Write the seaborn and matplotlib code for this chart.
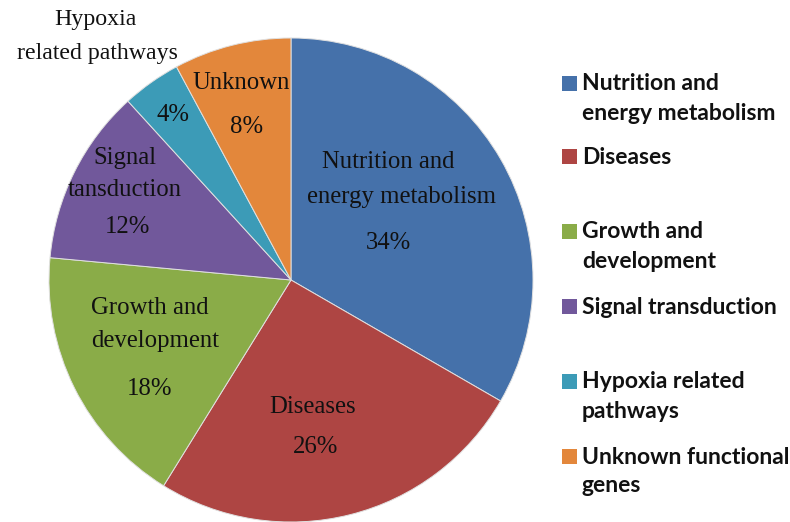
import matplotlib
matplotlib.use("Agg")
import matplotlib.pyplot as plt
import seaborn as sns
from matplotlib.patches import Rectangle

# ---- data ----
categories = ["Nutrition and energy metabolism", "Diseases", "Growth and development",
              "Signal transduction", "Hypoxia related pathways", "Unknown functional genes"]
values = [34, 26, 18, 12, 4, 8]
slice_names = ["Nutrition and\nenergy metabolism", "Diseases", "Growth and\ndevelopment",
               "Signal\ntansduction", "Hypoxia\nrelated pathways", "Unknown"]
legend_labels = ["Nutrition and\nenergy metabolism", "Diseases", "Growth and\ndevelopment",
                 "Signal transduction", "Hypoxia related\npathways", "Unknown functional\ngenes"]
colors = sns.color_palette(["#4571AA", "#AE4543", "#8AAC48", "#71589B", "#3C9BB7", "#E3873B"])

sns.set_theme(style="white")
plt.rcParams["font.family"] = ["Liberation Serif", "DejaVu Serif"]

W, H = 790, 522
fig = plt.figure(figsize=(W / 100, H / 100), dpi=100)
fig.patch.set_facecolor("white")

cx, cy, r = 291, 280, 242
ax = fig.add_axes([(cx - r) / W, (H - cy - r) / H, 2 * r / W, 2 * r / H])
ax.pie(values, colors=colors, startangle=90, counterclock=False, radius=1,
       wedgeprops=dict(edgecolor="#e0e0e0", linewidth=0.7))
ax.set_xlim(-1, 1)
ax.set_ylim(-1, 1)
ax.set_aspect("equal")
ax.axis("off")

def ftxt(px, py, s, **kw):
    fig.text(px / W, 1 - py / H, s, **kw)

# slice labels: (name line positions, percentage position) in pixels
name_pos = [[(388, 162), (401, 197)], [(313, 407)], [(150, 308), (155, 341)],
            [(125, 158), (125, 190)], [(95, 20), (97, 53)], [(241, 83)]]
pct_pos = [(388, 243), (316, 447), (150, 389), (127, 227), (173, 115), (247, 127)]
label_sizes = [17.8, 17.8, 17.8, 17.8, 17.2, 17.8]

for name, npos, ppos, v, fs in zip(slice_names, name_pos, pct_pos, values, label_sizes):
    for line, (px, py) in zip(name.split("\n"), npos):
        ftxt(px, py, line, ha="center", va="center", fontsize=fs, color="#111111")
    ftxt(ppos[0], ppos[1], f"{v}%", ha="center", va="center", fontsize=17.8, color="#111111")

# legend (manual, Excel-like irregular spacing)
leg_y = [84, 157, 232, 307, 382, 457]
line_gap = 29
for lab, col, y in zip(legend_labels, colors, leg_y):
    fig.patches.append(Rectangle((562 / W, 1 - (y + 7) / H), 15 / W, 15 / H,
                                 transform=fig.transFigure, facecolor=col,
                                 edgecolor="none", figure=fig))
    for i, line in enumerate(lab.split("\n")):
        fig.text(582 / W, 1 - (y + i * line_gap) / H, line, ha="left", va="center",
                 fontsize=16.5, fontweight="bold", family=["Lato", "DejaVu Sans"],
                 color="#111111")

fig.savefig("out.png", dpi=100, facecolor="white")
